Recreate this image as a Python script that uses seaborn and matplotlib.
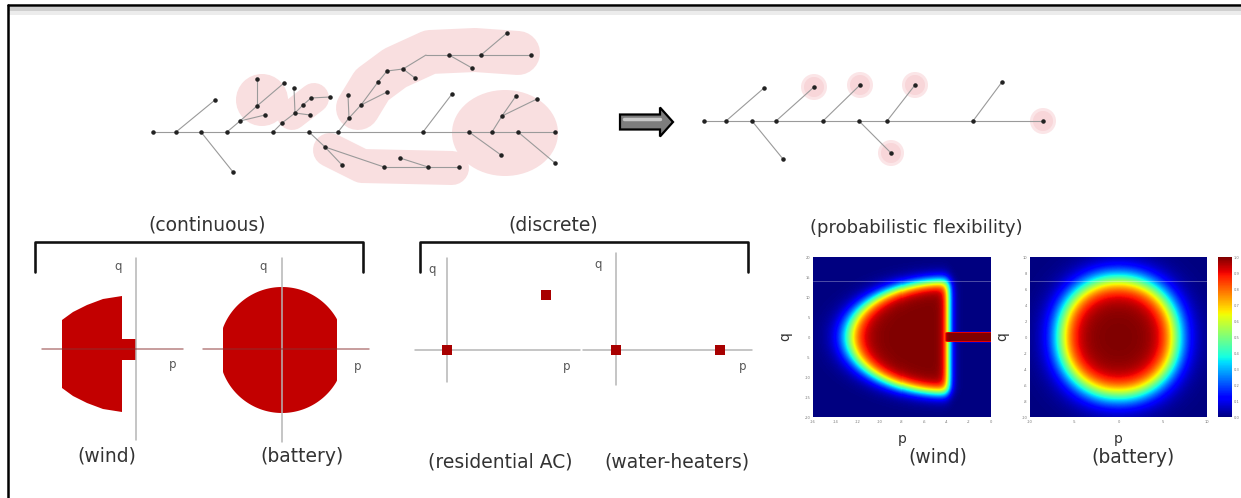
import numpy as np
import matplotlib
matplotlib.use("Agg")
import seaborn as sns
from matplotlib import pyplot as plt
from matplotlib.patches import Polygon, Ellipse, Circle, FancyArrow, Rectangle

sns.set_theme(style="white")
plt.rcParams["font.family"] = ["DejaVu Sans"]

W, H = 1241, 498

# ---- left feeder (pixel positions) ----
left_x = [153, 176, 201, 227, 273, 309, 338, 423, 469, 492, 518, 555,
          215, 233, 240, 257, 257, 284, 265, 282, 295, 310, 303, 294, 311, 330,
          325, 342, 384, 428, 459, 400, 349, 348, 361, 387, 378, 387, 403, 415,
          426, 449, 472, 481, 507, 531, 452, 501, 502, 516, 537, 555]
left_y = [132] * 12 + [
          100, 172, 121, 106, 79, 83, 115, 123, 113, 115, 105, 88, 98, 97,
          147, 165, 167, 167, 167, 158, 118, 95, 105, 92, 82, 71, 69, 78,
          55, 55, 68, 55, 33, 55, 94, 155, 116, 96, 99, 163]
left_edges = [(i, i + 1) for i in range(11)] + [
    (1, 12), (2, 13), (3, 14), (14, 15), (15, 16), (15, 17), (14, 18),
    (4, 19), (19, 20), (20, 21), (20, 22), (20, 23), (22, 24), (24, 25),
    (5, 26), (26, 27), (26, 28), (28, 29), (29, 30), (31, 29),
    (6, 32), (32, 33), (32, 34), (34, 35), (34, 36), (36, 37), (37, 38),
    (38, 39), (38, 40), (40, 41), (41, 42), (41, 43), (43, 44), (43, 45),
    (7, 46), (8, 47), (9, 48), (48, 49), (48, 50), (10, 51)]
left_bends = [40]

# pink aggregation groups
blob_ellipses = [((262, 100), 52, 52), ((505, 133), 106, 86)]
blob_paths = [([(292, 115), (314, 98)], 30),
              ([(358, 108), (372, 85), (395, 68), (430, 52), (475, 50), (518, 53)], 44),
              ([(330, 150), (362, 166), (452, 168)], 34)]

# ---- reduced feeder ----
right_x = [704, 726, 752, 776, 823, 859, 887, 973, 1043, 764, 783, 814, 860, 915, 891, 1002]
right_y = [121] * 9 + [88, 159, 87, 85, 85, 153, 82]
right_edges = [(i, i + 1) for i in range(8)] + [
    (1, 9), (2, 10), (3, 11), (4, 12), (6, 13), (5, 14), (7, 15)]
right_agg = [11, 12, 13, 14, 8]

# ---- flexibility sets ----
wind_top = [(62, 320), (73, 312), (87, 305), (103, 299), (122, 296)]
wind_mid = 354
wind_arm = (122, 339, 14, 21)
battery_c, battery_r, battery_clip = (282, 350), 63, (223, 337)
ac_pts = [(447, 350), (546, 295)]
wh_pts = [(616, 350), (720, 350)]

# probabilistic sets (p, q units)
wind_p_right = -3.8
wind_a, wind_b = 8.95, 14.0
wind_arm_q = 1.25
batt_ap, batt_aq = 6.55, 7.25

wind_xticks = [-16, -14, -12, -10, -8, -6, -4, -2, 0]
wind_yticks = [-20, -15, -10, -5, 0, 5, 10, 15, 20]
batt_xticks = [-10, -5, 0, 5, 10]
batt_yticks = [-10, -8, -6, -4, -2, 0, 2, 4, 6, 8, 10]
cbar_ticks = [0, 0.1, 0.2, 0.3, 0.4, 0.5, 0.6, 0.7, 0.8, 0.9, 1]

GRAY = "#9a9a9a"
RED = "#c20000"
TXT = "#333333"
FS = 13.5


def px_lw(px):
    return px * 72.0 / 100


def sig(x):
    return 1 / (1 + np.exp(-x))


fig = plt.figure(figsize=(W / 100, H / 100), dpi=100)
ax = fig.add_axes([0, 0, 1, 1])
ax.set_xlim(0, W)
ax.set_ylim(H, 0)
ax.axis("off")

# frame
ax.add_patch(Rectangle((8, 7), W, 4, color="#cfcfcf", lw=0))
ax.add_patch(Rectangle((8, 11), W, 4, color="#ececec", lw=0))
ax.plot([8, W], [5, 5], color="black", lw=px_lw(2.5))
ax.plot([8, 8], [5, H], color="black", lw=px_lw(2.5))

# pink blobs
pink = "#f9dfe0"
for c, w, h in blob_ellipses:
    ax.add_patch(Ellipse(c, w, h, color=pink, lw=0))
for pts, w in blob_paths:
    xs, ys = zip(*pts)
    ax.plot(xs, ys, color=pink, lw=px_lw(w), solid_capstyle="round", solid_joinstyle="round")

# left feeder
for a, b in left_edges:
    ax.plot([left_x[a], left_x[b]], [left_y[a], left_y[b]], color=GRAY, lw=0.8)
dots = [i for i in range(len(left_x)) if i not in left_bends]
ax.scatter([left_x[i] for i in dots], [left_y[i] for i in dots], s=5, color="#222222", zorder=3)

# arrow
ax.add_patch(FancyArrow(620, 122, 53, 0, width=15, head_width=29, head_length=13,
                        length_includes_head=True, fc="#7d7d7d", ec="black", lw=1.6))
ax.plot([624, 660], [119, 119], color="#c8c8c8", lw=2.5)

# reduced feeder
for i in right_agg:
    ax.add_patch(Circle((right_x[i], right_y[i]), 13, color="#fbe5e7", lw=0))
    ax.add_patch(Circle((right_x[i], right_y[i]), 10, color="#f8d6d9", lw=0))
for a, b in right_edges:
    ax.plot([right_x[a], right_x[b]], [right_y[a], right_y[b]], color=GRAY, lw=0.8)
ax.scatter(right_x, right_y, s=5, color="#222222", zorder=3)

# brackets + headings
for x0, x1 in [(35, 363), (420, 748)]:
    ax.plot([x0, x0, x1, x1], [272, 242, 242, 272], color="#111111", lw=px_lw(2.6))
ax.text(207, 225, "(continuous)", fontsize=FS, color=TXT, ha="center", va="center")
ax.text(553, 225, "(discrete)", fontsize=FS, color=TXT, ha="center", va="center")
ax.text(810, 228, "(probabilistic flexibility)", fontsize=13, color=TXT, ha="left", va="center")

AX = "#b5b5b5"
SM = dict(fontsize=8.5, color="#555555", ha="center", va="center")
# wind set
ax.plot([136, 136], [258, 440], color=AX, lw=1.1)
top = np.array(wind_top, dtype=float)
bot = top[::-1].copy()
bot[:, 1] = 2 * wind_mid - bot[:, 1]
ax.add_patch(Polygon(np.vstack([top, bot]), closed=True, color=RED, lw=0))
ax.add_patch(Rectangle(wind_arm[:2], wind_arm[2], wind_arm[3], color=RED, lw=0))
ax.plot([42, 183], [349, 349], color="#8a3030", lw=1.1, alpha=0.6)
ax.text(118, 266, "q", **SM)
ax.text(173, 364, "p", **SM)

# battery set
ax.plot([282, 282], [258, 442], color=AX, lw=1.1)
th = np.linspace(0, 2 * np.pi, 300)
bx = np.clip(battery_c[0] + battery_r * np.cos(th), *battery_clip)
by = battery_c[1] + battery_r * np.sin(th)
ax.add_patch(Polygon(np.column_stack([bx, by]), closed=True, color=RED, lw=0))
ax.plot([203, 369], [349, 349], color="#8a3030", lw=1.1, alpha=0.6)
ax.text(263, 266, "q", **SM)
ax.text(358, 366, "p", **SM)

# discrete sets
ax.plot([447, 447], [258, 382], color=AX, lw=1.1)
ax.plot([415, 580], [350, 350], color=AX, lw=1.1)
ax.plot([616, 616], [253, 385], color=AX, lw=1.1)
ax.plot([583, 752], [350, 350], color=AX, lw=1.1)
for x, y in ac_pts + wh_pts:
    ax.add_patch(Rectangle((x - 5, y - 5), 10, 10, color="#a80000", lw=0, zorder=4))
ax.text(432, 269, "q", **SM)
ax.text(567, 366, "p", **SM)
ax.text(598, 264, "q", **SM)
ax.text(743, 366, "p", **SM)

for x, y, s in [(107, 456, "(wind)"), (302, 456, "(battery)"),
                (500, 462, "(residential AC)"), (677, 462, "(water-heaters)"),
                (938, 457, "(wind)"), (1133, 457, "(battery)")]:
    ax.text(x, y, s, fontsize=FS, color=TXT, ha="center", va="center")


def frac(x0, y0, x1, y1):
    return [x0 / W, 1 - y1 / H, (x1 - x0) / W, (y1 - y0) / H]


# wind probability field: half ellipse open to the right, plus the thin arm
nr, nc = 160, 177
P, Q = np.meshgrid(np.linspace(-16, 0, nc), np.linspace(20, -20, nr))
rw = np.sqrt(((P - wind_p_right) / wind_a) ** 2 + (Q / wind_b) ** 2)
wind_field = sig((1 - rw) / 0.072) * sig((wind_p_right - P) / 0.24)
arm = sig((wind_arm_q - np.abs(Q)) / 0.05) * sig((P - wind_p_right + 0.5) / 0.1)
wind_field = np.maximum(wind_field, arm)

# battery probability field
Pb, Qb = np.meshgrid(np.linspace(-10, 10, nc), np.linspace(10, -10, nr))
rb = ((np.abs(Pb) / batt_ap) ** 2.1 + (np.abs(Qb) / batt_aq) ** 2.1) ** (1 / 2.1)
batt_field = sig((1 - rb) / 0.138)

ax1 = fig.add_axes(frac(813, 257, 991, 417))
ax2 = fig.add_axes(frac(1030, 257, 1207, 417))
cax = fig.add_axes(frac(1218, 257, 1232, 417))
sns.heatmap(wind_field, ax=ax1, cmap="jet", vmin=0, vmax=1, cbar=False,
            xticklabels=False, yticklabels=False)
sns.heatmap(batt_field, ax=ax2, cmap="jet", vmin=0, vmax=1, cbar=True, cbar_ax=cax,
            xticklabels=False, yticklabels=False)


def ticks(a, xt, yt, xr, yr):
    a.set_xticks([(v - xr[0]) / (xr[1] - xr[0]) * nc for v in xt])
    a.set_xticklabels([str(v) for v in xt])
    a.set_yticks([(yr[1] - v) / (yr[1] - yr[0]) * nr for v in yt])
    a.set_yticklabels([str(v) for v in yt])
    a.tick_params(length=0, labelsize=2.6, colors="#777777", pad=2)
    a.axhline(24, color="white", lw=0.6, alpha=0.35)


ticks(ax1, wind_xticks, wind_yticks, (-16, 0), (-20, 20))
ticks(ax2, batt_xticks, batt_yticks, (-10, 10), (-10, 10))
for a in (ax1, ax2):
    a.set_xlabel("p", fontsize=10, color=TXT, labelpad=6)
    a.set_ylabel("q", fontsize=10, color=TXT, labelpad=9)
cax.set_yticks(cbar_ticks)
cax.set_yticklabels([f"{v:.1f}" for v in cbar_ticks])
cax.tick_params(length=0, labelsize=2.6, colors="#777777", pad=1)

fig.savefig("out.png", dpi=100)
